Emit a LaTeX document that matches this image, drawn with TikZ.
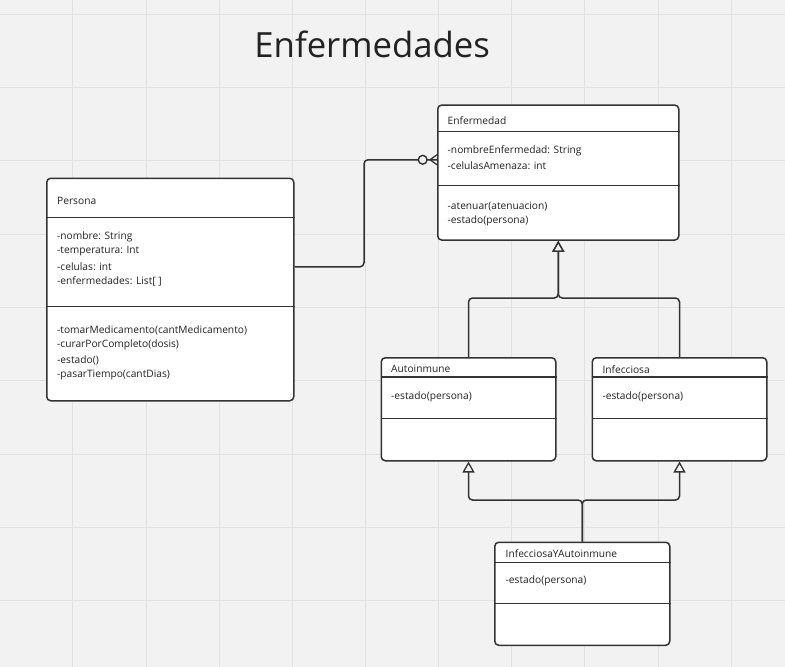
\documentclass[tikz,border=0pt]{standalone}
\usepackage{fontspec}
\setmainfont{Open Sans}
\usetikzlibrary{arrows.meta}
\definecolor{bg}{HTML}{F2F2F2}
\definecolor{gridc}{HTML}{E2E2E2}
\definecolor{linec}{HTML}{333333}
\definecolor{txt}{HTML}{222222}
\begin{document}
\begin{tikzpicture}[x=1pt,y=-1pt,
  classbox/.style={draw=linec, fill=white, line width=1.5pt, rounded corners=4pt, anchor=north west, inner sep=0pt},
  txtl/.style={anchor=west, inner sep=0pt, font=\fontsize{10.2}{12}\selectfont, text=txt},
  divline/.style={draw=linec, line width=1.5pt},
  conn/.style={draw=linec, line width=1.5pt, rounded corners=4pt},
  gen/.style={conn, -{Triangle[open, length=11pt, width=12pt, line width=1.3pt]}}]
% background and grid
\fill[bg] (0,0) rectangle (785,667);
\useasboundingbox (0,0) rectangle (785,667);
\foreach \i in {1,...,10} \draw[gridc, line width=0.9pt] (73.15*\i-0.3,0) -- (73.15*\i-0.3,667);
\foreach \j in {0,...,8} \draw[gridc, line width=0.9pt] (0,14.3+73.3*\j) -- (785,14.3+73.3*\j);
% title
\node[anchor=base, inner sep=0pt, font=\fontsize{34.7}{40}\selectfont, text=txt] (title) at (372.2,57.3) {Enfermedades};
% class boxes
\node[classbox, minimum width=247pt, minimum height=222.5pt] (persona) at (46,177.5) {};
\node[classbox, minimum width=241pt, minimum height=135pt] (enf) at (437,104.3) {};
\node[classbox, minimum width=174.5pt, minimum height=103pt] (auto) at (380.5,357) {};
\node[classbox, minimum width=174.5pt, minimum height=103pt] (inf) at (591.5,357) {};
\node[classbox, minimum width=175pt, minimum height=103pt] (iya) at (494,541.5) {};
% dividers
\draw[divline] ([yshift=-40.2pt]persona.north west) -- ([yshift=-40.2pt]persona.north east);
\draw[divline] ([yshift=-129.2pt]persona.north west) -- ([yshift=-129.2pt]persona.north east);
\draw[divline] ([yshift=-27.4pt]enf.north west) -- ([yshift=-27.4pt]enf.north east);
\draw[divline] ([yshift=-81.4pt]enf.north west) -- ([yshift=-81.4pt]enf.north east);
\draw[divline] ([yshift=-20pt]auto.north west) -- ([yshift=-20pt]auto.north east);
\draw[divline] ([yshift=-61.7pt]auto.north west) -- ([yshift=-61.7pt]auto.north east);
\draw[divline] ([yshift=-20pt]inf.north west) -- ([yshift=-20pt]inf.north east);
\draw[divline] ([yshift=-61.7pt]inf.north west) -- ([yshift=-61.7pt]inf.north east);
\draw[divline] ([yshift=-20.8pt]iya.north west) -- ([yshift=-20.8pt]iya.north east);
\draw[divline] ([yshift=-61.8pt]iya.north west) -- ([yshift=-61.8pt]iya.north east);
% Persona texts
\node[txtl] (pt) at (57,201) {Persona};
\node[txtl] (pa1) at (57,236.7) {-nombre: String};
\node[txtl] (pa2) at (57,251.5) {-temperatura: Int};
\node[txtl] (pa3) at (57,266.7) {-celulas: int};
\node[txtl] (pa4) at (57,281.3) {-enfermedades: List[ ]};
\node[txtl] (pm1) at (57,330.5) {-tomarMedicamento(cantMedicamento)};
\node[txtl] (pm2) at (57,345.3) {-curarPorCompleto(dosis)};
\node[txtl] (pm3) at (57,360) {-estado()};
\node[txtl] (pm4) at (57,374.5) {-pasarTiempo(cantDias)};
% Enfermedad texts
\node[txtl] (et) at (447.5,120.5) {Enfermedad};
\node[txtl] (ea1) at (447.5,151) {-nombreEnfermedad: String};
\node[txtl] (ea2) at (447.5,165.7) {-celulasAmenaza: int};
\node[txtl] (em1) at (447.5,206.2) {-atenuar(atenuacion)};
\node[txtl] (em2) at (447.5,220.5) {-estado(persona)};
% Autoinmune texts
\node[txtl] (at) at (391,369.3) {Autoinmune};
\node[txtl] (am) at (391,396.7) {-estado(persona)};
% Infecciosa texts
\node[txtl] (it) at (602.3,369.3) {Infecciosa};
\node[txtl] (im) at (602.3,396.7) {-estado(persona)};
% InfecciosaYAutoinmune texts
\node[txtl] (yt) at (505.5,554) {InfecciosaYAutoinmune};
\node[txtl] (ym) at (505.5,581) {-estado(persona)};
% association Persona -- Enfermedad (zero or many)
\coordinate (pa) at ([yshift=22.7pt]persona.east);
\coordinate (eb) at ([yshift=12.8pt]enf.west);
\draw[conn] (pa) -| (364,200) |- (eb);
\draw[linec, line width=1.3pt] ([xshift=-7pt]eb) -- ([yshift=5pt]eb);
\draw[linec, line width=1.3pt] ([xshift=-7pt]eb) -- ([yshift=-5pt]eb);
\draw[linec, line width=1.4pt, fill=bg] ([xshift=-14.3pt]eb) circle (4.4pt);
% generalizations
\draw[gen] (auto.north) -- ++(0,-59) -| (enf.south);
\draw[gen] (inf.north) -- ++(0,-59) -| (enf.south);
\draw[gen] (iya.north) -- ++(0,-41.5) -| (auto.south);
\draw[gen] (iya.north) -- ++(0,-41.5) -| (inf.south);
\end{tikzpicture}
\end{document}
